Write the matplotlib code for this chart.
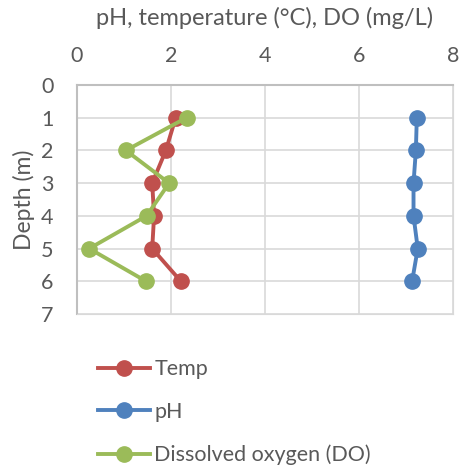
import matplotlib.pyplot as plt

plt.rcParams['font.family'] = ['Lato', 'DejaVu Sans']

depth = [1, 2, 3, 4, 5, 6]
temp = [2.10, 1.89, 1.60, 1.64, 1.60, 2.21]
ph = [7.23, 7.21, 7.16, 7.16, 7.25, 7.13]
do = [2.33, 1.04, 1.96, 1.48, 0.26, 1.47]

text_col = '#595959'

fig = plt.figure(figsize=(4.62, 4.68), dpi=100)
ax = fig.add_axes([77 / 462, 1 - 314 / 468, 376 / 462, 229 / 468])

ax.plot(temp, depth, color='#C0504D', lw=2.8, marker='o', ms=11, label='Temp')
ax.plot(ph, depth, color='#4F81BD', lw=2.8, marker='o', ms=11, label='pH')
ax.plot(do, depth, color='#9BBB59', lw=2.8, marker='o', ms=11, label='Dissolved oxygen (DO)')

ax.set_xlim(0, 8)
ax.set_ylim(7, 0)
ax.set_xticks([0, 2, 4, 6, 8])
ax.set_yticks(range(8))
ax.xaxis.tick_top()
ax.xaxis.set_label_position('top')
ax.set_xlabel('pH, temperature (°C), DO (mg/L)', fontsize=17, color=text_col, labelpad=15)
ax.set_ylabel('Depth (m)', fontsize=16.5, color=text_col, labelpad=4)
ax.tick_params(length=0, labelsize=15.5, colors=text_col)
ax.tick_params(axis='x', pad=14)
ax.tick_params(axis='y', pad=17)
ax.grid(True, color='#D9D9D9', lw=1.2)
ax.set_axisbelow(True)
for s in ax.spines.values():
    s.set_color('#D9D9D9')
ax.spines['left'].set_color('#BFBFBF')
ax.spines['top'].set_color('#BFBFBF')
ax.spines['left'].set_linewidth(1.5)
ax.spines['top'].set_linewidth(1.5)

leg = fig.legend(loc='upper left', bbox_to_anchor=(79 / 462, 1 - 340 / 468), frameon=False,
                 fontsize=15.5, handlelength=2.4, labelspacing=1.05, handletextpad=0.2)
for t in leg.get_texts():
    t.set_color(text_col)

fig.savefig('out.png', dpi=100)
